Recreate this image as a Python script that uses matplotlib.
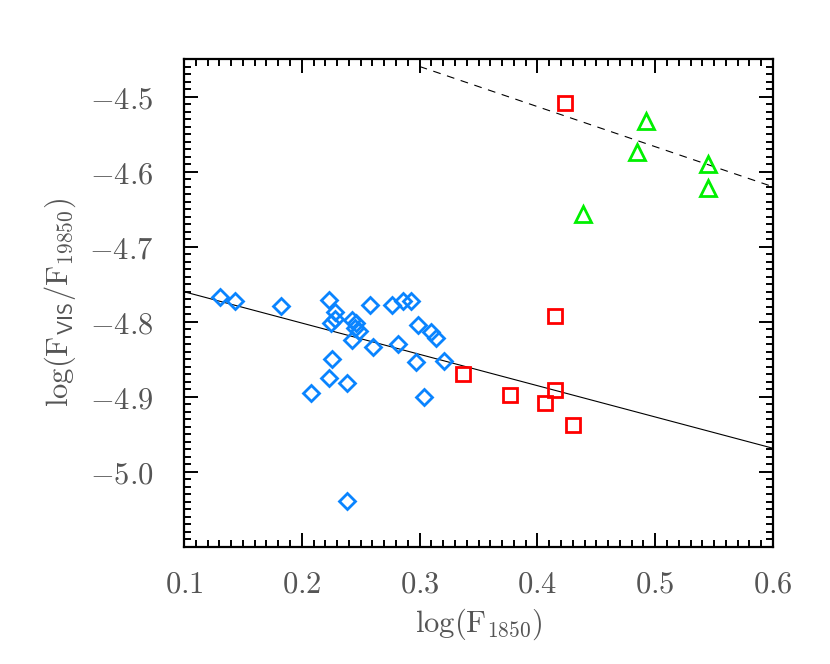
import numpy as np
import matplotlib
matplotlib.use("Agg")
import matplotlib.pyplot as plt
from matplotlib.ticker import MultipleLocator, FixedLocator, FuncFormatter

# Blue diamonds
blue_x = [0.1305, 0.1432, 0.1822, 0.2231, 0.2280, 0.2286, 0.2252, 0.2254, 0.2231, 0.2074,
          0.2387, 0.2430, 0.2458, 0.2449, 0.2486, 0.2430, 0.2576, 0.2604, 0.2765, 0.2858,
          0.2930, 0.2816, 0.2989, 0.3099, 0.3142, 0.2972, 0.3203, 0.3036, 0.2387]
blue_y = [-4.767, -4.772, -4.779, -4.771, -4.787, -4.796, -4.802, -4.849, -4.875, -4.895,
          -4.882, -4.798, -4.801, -4.808, -4.812, -4.824, -4.778, -4.833, -4.778, -4.773,
          -4.773, -4.830, -4.804, -4.814, -4.822, -4.853, -4.852, -4.900, -5.039]
# Red squares
red_x = [0.3367, 0.3771, 0.4068, 0.4153, 0.4299, 0.4153, 0.4237]
red_y = [-4.869, -4.898, -4.908, -4.891, -4.938, -4.792, -4.508]
# Green triangles
green_x = [0.4921, 0.4847, 0.5449, 0.5449, 0.4384]
green_y = [-4.533, -4.574, -4.590, -4.622, -4.657]

# Tick values
x_ticks = [0.1, 0.2, 0.3, 0.4, 0.5, 0.6]
y_ticks = [-5.0, -4.9, -4.8, -4.7, -4.6, -4.5]

# Fit lines: x range, intercept at x0, slope
solid_xr, solid_x0, solid_y0, solid_slope = [0.1, 0.6], 0.1, -4.760, -0.417
dash_xr, dash_x0, dash_y0, dash_slope = [0.3, 0.6], 0.3, -4.460, -0.534

plt.rcParams['mathtext.fontset'] = 'cm'

fig = plt.figure(figsize=(8.3, 6.64), dpi=100)
ax = fig.add_axes([184/830, (664-547)/664, (773-184)/830, (547-59)/664])

xs = np.array(solid_xr)
ax.plot(xs, solid_y0 + solid_slope*(xs - solid_x0), color='black', lw=0.8)
xd = np.array(dash_xr)
ax.plot(xd, dash_y0 + dash_slope*(xd - dash_x0), color='black', lw=0.8,
        linestyle=(0, (7, 6)))

ax.plot(blue_x, blue_y, linestyle='none', marker='D', ms=8.5, mfc='none',
        mec='#0a84ff', mew=2)
ax.plot(red_x, red_y, linestyle='none', marker='s', ms=9.5, mfc='none',
        mec='#ff0000', mew=2)
ax.plot(green_x, green_y, linestyle='none', marker='^', ms=11, mfc='none',
        mec='#00f000', mew=2)

ax.set_xlim(0.1, 0.6)
ax.set_ylim(-5.1, -4.45)
ax.xaxis.set_major_locator(FixedLocator(x_ticks))
ax.xaxis.set_minor_locator(MultipleLocator(0.01))
ax.yaxis.set_major_locator(FixedLocator(y_ticks))
ax.yaxis.set_minor_locator(MultipleLocator(0.01))
ax.xaxis.set_major_formatter(FuncFormatter(lambda v, p: r'$%.1f$' % v))
ax.yaxis.set_major_formatter(FuncFormatter(lambda v, p: r'$%.1f$' % v))
ax.tick_params(which='both', direction='in', top=True, right=True, width=1.4,
               labelsize=22, labelcolor='#555555')
ax.tick_params(which='major', length=10)
ax.tick_params(axis='x', which='major', pad=16)
ax.tick_params(axis='y', which='major', pad=22)
ax.tick_params(which='minor', length=5)
for s in ax.spines.values():
    s.set_linewidth(1.6)

ax.set_xlabel(r'$\log(\mathrm{F}_{\mathsf{1850}})$', fontsize=22, color='#555555', labelpad=6)
ax.set_ylabel(r'$\log(\mathrm{F}_{\mathsf{VIS}}/\mathrm{F}_{\mathsf{19850}})$', fontsize=22,
              color='#555555', labelpad=8)

fig.savefig('out.png', dpi=100)
